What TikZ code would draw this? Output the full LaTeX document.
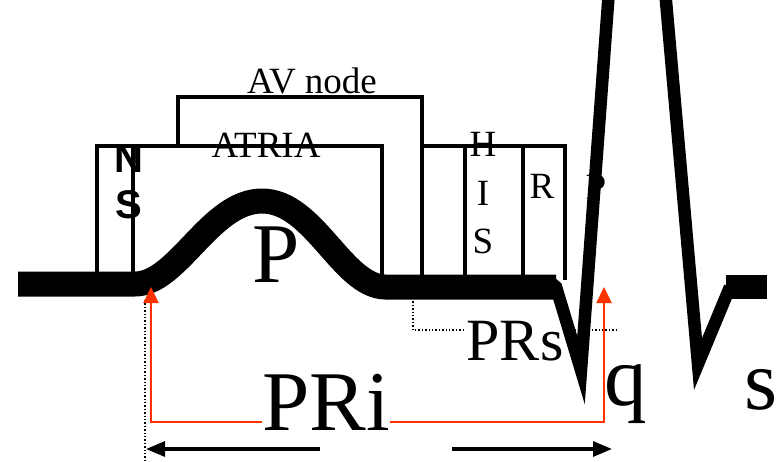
\documentclass[tikz,border=0pt]{standalone}
\usepackage{fontspec}
\setmainfont{Liberation Serif}
\newfontfamily\nsfont{Liberation Sans}
\usetikzlibrary{arrows.meta}
\definecolor{ecgred}{HTML}{FF3300}
\tikzset{
  ecg/.style={line width=25pt, line join=round},
  qrs/.style={line width=12.5pt, line join=miter, miter limit=20},
  boxline/.style={line width=3.2pt, line join=miter},
  lbl/.style={anchor=base, inner sep=0pt, font=\fontsize{37}{37}\selectfont},
  biglbl/.style={anchor=base, inner sep=0pt, font=\fontsize{85}{85}\selectfont},
  nslbl/.style={anchor=base, inner sep=0pt, font=\nsfont\bfseries\fontsize{40}{40}\selectfont},
  redarrow/.style={draw=ecgred, line width=2.4pt, -{Triangle[width=15pt,length=16pt]}, color=ecgred},
  blkarrow/.style={line width=3.2pt, -{Triangle[width=15pt,length=19pt]}},
  dots/.style={line width=1.4pt, dotted}
}
\begin{document}
\begin{tikzpicture}[x=1pt,y=-1pt]
\useasboundingbox (0,0) rectangle (778,461);
% conduction boxes
\draw[boxline] (97,275) -- (97,146) -- (382,146) -- (382,275);
\draw[boxline] (133,146) -- (133,275);
\draw[boxline] (178,146) -- (178,97) -- (422,97) -- (422,275);
\draw[boxline] (422,146) -- (565,146) -- (565,280);
\draw[boxline] (465,146) -- (465,275);
\draw[boxline] (523,146) -- (523,275);
% labels in boxes
\node[lbl] (av) at (312,93) {AV node};
\node[lbl] (atria) at (266,157) {ATRIA};
\node[nslbl] (n) at (129,172) {N};
\node[nslbl] (s1) at (129,218) {S};
\node[lbl] (h) at (483,156) {H};
\node[lbl] (i) at (483,205) {I};
\node[lbl] (s2) at (483,253) {S};
\node[lbl] (r) at (542,198) {R};
\node[lbl] (p2) at (596,199) {P};
\node[biglbl] (p) at (276,282) {P};
% dotted guides
\coordinate (d1) at (145,300);
\coordinate (d2) at (145,461);
\draw[dots] (d1) -- (d2);
\coordinate (e1) at (413,298);
\coordinate (e2) at (413,330);
\coordinate (e3) at (618,330);
\draw[dots] (e1) -- (e2) -- (e3);
\node[anchor=base, inner sep=3pt, fill=white, font=\fontsize{60}{60}\selectfont] (prs) at (515,360) {PRs};
% ECG trace
\draw[ecg] (18,284) -- (135,284)
  .. controls (178,284) and (210,201) .. (262,201)
  .. controls (314,201) and (342,286) .. (385,287) -- (556,287);
\draw[qrs] (550,282) -- (556,287) -- (581,370) -- (609,-10);
\draw[qrs] (665,-10) -- (698,364) -- (730,287);
\draw[line width=24pt] (726,287) -- (767,287);
% red arrows
\node[biglbl] (pri) at (326,430) {PRi};
\coordinate (rl) at (151,422);
\coordinate (rlt) at (151,287);
\coordinate (rr) at (604,422);
\coordinate (rrt) at (604,287);
\draw[redarrow] (pri.west |- rl) -- (rl) -- (rlt);
\draw[redarrow] (pri.east |- rr) -- (rr) -- (rrt);
\node[biglbl] (q) at (626,405) {q};
\node[biglbl] (s) at (761,409) {s};
% black arrows
\coordinate (bl1) at (320,449);
\coordinate (bl2) at (146,449);
\coordinate (br1) at (452,449);
\coordinate (br2) at (612,449);
\draw[blkarrow] (bl1) -- (bl2);
\draw[blkarrow] (br1) -- (br2);
\end{tikzpicture}
\end{document}
